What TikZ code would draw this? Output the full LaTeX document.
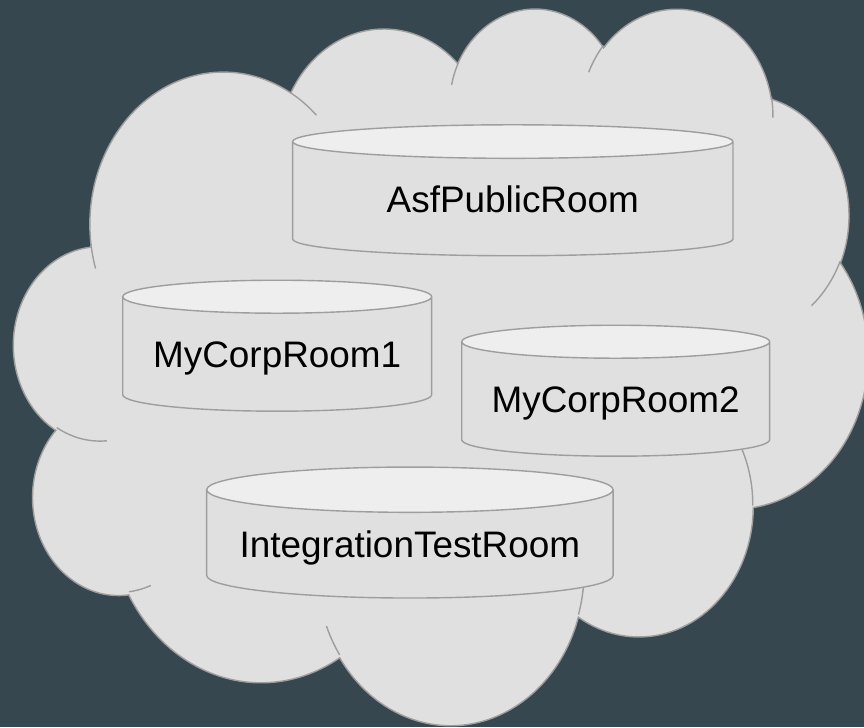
\documentclass[tikz,border=0pt]{standalone}
\usepackage{fontspec}
\setmainfont{Liberation Sans}
\usepackage{tikz}
\usetikzlibrary{%
   shapes.geometric,%
   positioning}

\definecolor{slate}{HTML}{37474F}
\definecolor{cloudgrey}{HTML}{E0E0E0}
\definecolor{roomtop}{HTML}{EEEEEE}
\definecolor{edgegrey}{HTML}{9E9E9E}

% one lobe of the cloud: x radius, y radius, start angle, sweep
% (true angles, turned into the angle of the ellipse parameter)
\tikzset{lobe/.code n args={4}{%
   \pgfmathsetmacro\lobeS{atan2((#1)*sin(#3),(#2)*cos(#3))}%
   \pgfmathsetmacro\lobeE{atan2((#1)*sin(#3+#4),(#2)*cos(#3+#4))}%
   \pgfmathsetmacro\lobeD{mod(\lobeE-\lobeS+720,360)}%
   \pgfkeysalso{x radius=#1,y radius=#2,start angle=\lobeS,delta angle=\lobeD}}}

\begin{document}
\begin{tikzpicture}
[x=0.02cm, y=-0.02cm,
 cloud/.style={fill=cloudgrey,draw=edgegrey,line width=0.8pt},
 fold/.style={draw=edgegrey,line width=0.8pt},
 room/.style={cylinder,shape border rotate=90,aspect=0.133,draw=edgegrey,line width=0.8pt,
              cylinder uses custom fill,cylinder body fill=cloudgrey,cylinder end fill=roomtop,
              inner sep=0pt,minimum height=2.62cm,text height=0.52cm,text depth=0pt,
              font=\fontsize{21}{25}\selectfont}]
\useasboundingbox[fill=slate] (0,0) rectangle (864,727);
\begin{scope}[shift={(14,6.7)}, x=0.03954cm, y=-0.033166cm]
\path[cloud] (39.00,143.70)
      arc[lobe={67.53}{91.90}{-190.48748}{123.78053}]
      arc[lobe={53.33}{72.67}{-144.10238}{89.94523}]
      arc[lobe={43.65}{59.45}{-145.80792}{99.72302}]
      arc[lobe={48.57}{65.95}{-130.98607}{117.24173}]
      arc[lobe={53.33}{72.73}{-78.70888}{109.02692}]
      arc[lobe={67.75}{92.20}{-46.26725}{130.26900}]
      arc[lobe={57.85}{78.67}{0.62502}{114.03333}]
      arc[lobe={67.52}{92.15}{22.45160}{115.17255}]
      arc[lobe={77.20}{105.43}{66.24263}{75.71102}]
      arc[lobe={43.60}{59.18}{-274.94208}{146.73557}]
      arc[lobe={43.45}{59.45}{-246.82850}{152.51885}]
      -- cycle;
% short strokes inside the cloud
\path[fold] (46.93,261.77)  arc[lobe={43.45}{59.45}{86.7420}{26.4295}]
            (69.28,348.99)  arc[lobe={43.60}{59.18}{73.6105}{11.4475}]
            (164.78,390.90) arc[lobe={67.52}{92.15}{137.6242}{14.0811}]
            (288.27,347.51) arc[lobe={67.52}{92.15}{6.4533}{15.9984}]
            (341.29,229.54) arc[lobe={57.85}{78.67}{-70.2924}{70.9174}]
            (417.98,153.54) arc[lobe={53.33}{72.73}{30.3180}{27.7515}]
            (383.24,54.26)  arc[lobe={48.57}{65.95}{-13.7443}{14.8502}]
            (290.78,39.52)  arc[lobe={48.57}{65.95}{-149.1815}{18.1954}]
            (221.41,47.20)  arc[lobe={43.65}{59.45}{-163.4943}{17.6864}]
            (140.00,51.92)  arc[lobe={67.53}{91.90}{-66.7070}{12.3194}]
            (41.27,157.89)  arc[lobe={67.53}{91.90}{157.6544}{11.8582}];
\end{scope}
\node[room,minimum width=8.81cm] (asf)   at (512.8,199.0) {AsfPublicRoom};
\node[room,minimum width=6.18cm] (corp1) at (277.2,354.3) {MyCorpRoom1};
\node[room,minimum width=6.16cm] (corp2) at (615.7,399.3) {MyCorpRoom2};
\node[room,minimum width=8.13cm] (itest) at (409.9,544.2) {IntegrationTestRoom};
\end{tikzpicture}
\end{document}
